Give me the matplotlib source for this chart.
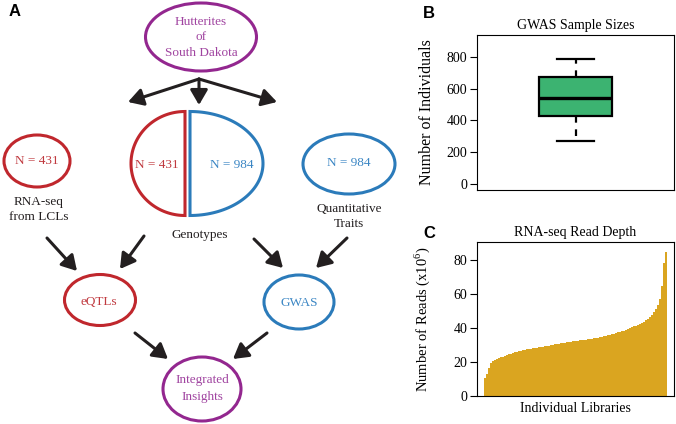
import numpy as np
import matplotlib
matplotlib.use('Agg')
import matplotlib.pyplot as plt
from matplotlib.patches import Ellipse, Polygon, FancyArrowPatch

plt.rcParams['font.family'] = 'Liberation Serif'
plt.rcParams['mathtext.fontset'] = 'custom'
plt.rcParams['mathtext.rm'] = 'Liberation Serif'

# panel B: GWAS sample sizes (box summary)
gwas_stats = dict(whislo=270, q1=425, med=541, q3=673, whishi=786)
b_yticks = [0, 200, 400, 600, 800]

# panel C: sorted read depth per library (x10^6)
read_depth = [10.5, 13, 16.5, 19.5, 20.8, 21.4, 21.9, 22.3, 22.8, 23.2,
              23.6, 24.1, 24.5, 24.9, 25.3, 25.6, 25.9, 26.3, 26.7, 27.0,
              27.3, 27.5, 27.7, 27.9, 28.1, 28.3, 28.5, 28.7, 28.9, 29.1,
              29.3, 29.5, 29.7, 29.9, 30.1, 30.3, 30.6, 30.8, 31.0, 31.2,
              31.4, 31.6, 31.8, 32.0, 32.1, 32.3, 32.4, 32.6, 32.7, 32.9,
              33.0, 33.2, 33.3, 33.5, 33.7, 33.9, 34.1, 34.4, 34.6, 34.8,
              35.1, 35.3, 35.6, 35.9, 36.3, 36.6, 37.0, 37.4, 37.7, 38.1,
              38.5, 38.9, 39.4, 39.9, 40.4, 40.9, 41.4, 41.9, 42.4, 43.1,
              43.8, 44.6, 45.4, 46.4, 47.6, 49.2, 51.0, 53.5, 57.0, 65.0,
              78.0, 84.5]
c_yticks = [0, 20, 40, 60, 80]

# panel A: flow diagram
RED, RED_T = '#C0272D', '#C0393F'
BLUE, BLUE_T = '#2B7BBA', '#3B86C4'
PURP, PURP_T = '#93278F', '#A044A0'
INK = '#231F20'

W, H = 676, 424
fig = plt.figure(figsize=(W / 100, H / 100), dpi=100)

ax0 = fig.add_axes([0, 0, 1, 1])
ax0.set_xlim(0, W)
ax0.set_ylim(H, 0)
ax0.axis('off')

def oval(cx, cy, w, h, col):
    ax0.add_patch(Ellipse((cx, cy), w, h, fill=False, ec=col, lw=2.2))

def half(cx, cy, rx, ry, col, side):
    t = np.linspace(np.pi / 2, 3 * np.pi / 2, 80)
    xs = cx + side * rx * np.abs(np.cos(t))
    ys = cy + ry * np.sin(t)
    ax0.add_patch(Polygon(np.column_stack([xs, ys]), closed=True, fill=False,
                          ec=col, lw=2.2, joinstyle='miter'))

def arrow(p, q):
    ax0.add_patch(FancyArrowPatch(p, q, arrowstyle='-|>,head_length=0.6,head_width=0.35',
                                  mutation_scale=15, lw=2.2, color=INK,
                                  shrinkA=0, shrinkB=0))

def txt(x, y, s, col=INK, size=9.5):
    ax0.text(x, y, s, color=col, fontsize=size, ha='center', va='center')

oval(201, 37, 111, 68, PURP)
txt(201, 22, 'Hutterites', PURP_T)
txt(201, 37, 'of', PURP_T)
txt(201, 53, 'South Dakota', PURP_T)

arrow((199, 79), (128, 102))
arrow((199, 79), (199, 105))
arrow((199, 79), (277, 102))

oval(37, 161, 66, 52, RED)
txt(37, 161, 'N = 431', RED_T)
txt(39, 202, 'RNA-seq')
txt(39, 217, 'from LCLs')

half(185, 163.5, 54, 52, RED, -1)
half(190, 163.5, 73, 52, BLUE, 1)
txt(157, 165, 'N = 431', RED_T)
txt(232, 165, 'N = 984', BLUE_T)
txt(200, 235, 'Genotypes')

oval(349, 164, 92, 60, BLUE)
txt(349, 163, 'N = 984', BLUE_T)
txt(349, 209, 'Quantitative')
txt(349, 224, 'Traits')

arrow((144, 236), (120, 269))
arrow((47, 238), (77, 271))
arrow((254, 239), (283, 268))
arrow((347, 238), (316, 268))

oval(100, 300, 71, 51, RED)
txt(99, 302, 'eQTLs', RED_T)
oval(299, 302, 70, 54, BLUE)
txt(299, 303, 'GWAS', BLUE_T)

arrow((135, 333), (168, 359))
arrow((267, 333), (233, 359))

oval(202, 389, 78, 64, PURP)
txt(202, 380, 'Integrated', PURP_T)
txt(202, 397, 'Insights', PURP_T)

for lab, x, y in [('A', 15, 11), ('B', 429, 13), ('C', 429, 233)]:
    ax0.text(x, y, lab, fontsize=12, fontweight='bold', family='Liberation Sans',
             ha='center', va='center', color='black')

# panel B
def frac(l, t, r, b):
    return [l / W, 1 - b / H, (r - l) / W, (b - t) / H]

axb = fig.add_axes(frac(477, 35, 674, 190))
axb.bxp([dict(gwas_stats, fliers=[])], positions=[1], widths=0.375,
        capwidths=0.19, patch_artist=True, showfliers=False,
        boxprops=dict(facecolor='#3CB371', edgecolor='black', lw=1.6),
        medianprops=dict(color='black', lw=2.4),
        whiskerprops=dict(color='black', lw=1.6, ls=(0, (3, 3))),
        capprops=dict(color='black', lw=1.6))
axb.set_xlim(0.5, 1.5)
axb.set_ylim(-37.5, 937.5)
axb.set_xticks([])
axb.set_yticks(b_yticks)
axb.set_title('GWAS Sample Sizes', fontsize=10, pad=4)
axb.set_ylabel('Number of Individuals', fontsize=11.5)
axb.yaxis.set_label_coords(-0.215, 0.5)

# panel C
axc = fig.add_axes(frac(477, 242, 674, 396))
n = len(read_depth)
axc.bar(np.arange(n), read_depth, width=1.0, align='edge',
        color='#DAA520', lw=0, antialiased=False)
axc.set_xlim(-0.04 * n, 1.04 * n)
axc.set_ylim(0, 90.6)
axc.set_xticks([])
axc.set_yticks(c_yticks)
axc.set_title('RNA-seq Read Depth', fontsize=10, pad=4)
axc.set_xlabel('Individual Libraries', fontsize=10, labelpad=4)
axc.set_ylabel('Number of Reads (x10$^6$)', fontsize=10.5)
axc.yaxis.set_label_coords(-0.23, 0.5)

for ax in (axb, axc):
    ax.tick_params(axis='y', direction='out', length=5, width=0.8, labelsize=10, pad=2)
    for s in ax.spines.values():
        s.set_linewidth(0.8)

fig.savefig('out.png', dpi=100)
